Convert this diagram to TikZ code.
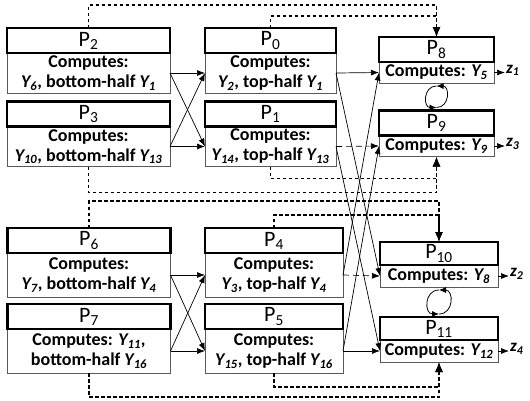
\documentclass[tikz,border=0pt]{standalone}
\usepackage{fontspec}
\setmainfont{Carlito}
\usetikzlibrary{arrows.meta,positioning,calc}
\newcommand{\yv}[1]{{\itshape Y\textsubscript{#1}}}
\newcommand{\zv}[1]{{\bfseries\itshape z\textsubscript{#1}}}
\newcommand{\pv}[1]{P\textsubscript{#1}}

\begin{document}
\begin{tikzpicture}[x=1pt, y=-1pt,
  titlebox/.style={rectangle, draw=black, line width=2.8pt, fill=white, inner sep=0pt, outer sep=0pt,
                   minimum height=25pt, font=\fontsize{22}{22}\selectfont},
  bodybox/.style={rectangle, draw=black!65, line width=0.9pt, fill=white, inner sep=0pt, outer sep=0pt,
                  align=center, font=\fontsize{18}{20}\selectfont\bfseries},
  lbody/.style={bodybox, minimum width=163pt, minimum height=40pt},
  mbody/.style={bodybox, minimum width=131pt, minimum height=40pt},
  rbody/.style={bodybox, minimum width=115pt, minimum height=21pt},
  ltitle/.style={titlebox, minimum width=163pt},
  mtitle/.style={titlebox, minimum width=131pt},
  rtitle/.style={titlebox, minimum width=115pt},
  zlab/.style={inner sep=1pt, font=\fontsize{17}{17}\selectfont},
  arr/.style={draw, line width=0.7pt, -{Latex[length=8pt,width=6pt]}},
  dasharr/.style={arr, dash pattern=on 6pt off 4pt},
  ctrl/.style={draw, line width=1.7pt, dash pattern=on 3.5pt off 2.5pt, -{Latex[length=10pt,width=8pt]}},
  loopy/.style={draw, line width=0.8pt, -{Latex[length=7pt,width=6pt]}}
]
\useasboundingbox (0,0) rectangle (530,400);

%% upper group, bodies first then titles on top
\node[lbody] (p2b) at (88.5,73) {Computes:\\\yv{6}, bottom-half \yv{1}};
\node[ltitle, above=0pt of p2b] (p2) {\pv{2}};
\node[lbody] (p3b) at (88.5,146.5) {Computes:\\\yv{10}, bottom-half \yv{13}};
\node[ltitle, above=0pt of p3b] (p3) {\pv{3}};
\node[mbody] (p0b) at (270.5,73) {Computes:\\\yv{2}, top-half \yv{1}};
\node[mtitle, above=0pt of p0b] (p0) {\pv{0}};
\node[mbody] (p1b) at (270.5,146.5) {Computes:\\\yv{14}, top-half \yv{13}};
\node[mtitle, above=0pt of p1b] (p1) {\pv{1}};
\node[rbody] (p8b) at (436.5,72.5) {Computes: \yv{5}};
\node[rtitle, above=0pt of p8b] (p8) {\pv{8}};
\node[rbody] (p9b) at (436.5,146) {Computes: \yv{9}};
\node[rtitle, above=0pt of p9b] (p9) {\pv{9}};

%% lower group
\node[lbody, minimum height=44pt] (p6b) at (89,275) {Computes:\\\yv{7}, bottom-half \yv{4}};
\node[ltitle, above=0pt of p6b] (p6) {\pv{6}};
\node[lbody, minimum height=44pt] (p7b) at (89,351) {Computes: \yv{11},\\bottom-half \yv{16}};
\node[ltitle, above=0pt of p7b] (p7) {\pv{7}};
\node[mbody, minimum width=138pt, minimum height=44pt] (p4b) at (274,275) {Computes:\\\yv{3}, top-half \yv{4}};
\node[mtitle, minimum width=138pt, above=0pt of p4b] (p4) {\pv{4}};
\node[mbody, minimum width=138pt, minimum height=44pt] (p5b) at (274,351) {Computes:\\\yv{15}, top-half \yv{16}};
\node[mtitle, minimum width=138pt, above=0pt of p5b] (p5) {\pv{5}};
\node[rbody, minimum width=118pt, minimum height=22pt] (p10b) at (439,276) {Computes: \yv{8}};
\node[rtitle, minimum width=118pt, minimum height=23pt, above=0pt of p10b] (p10) {\pv{10}};
\node[rbody, minimum width=118pt, minimum height=22pt] (p11b) at (439,351) {Computes: \yv{12}};
\node[rtitle, minimum width=118pt, minimum height=23pt, above=0pt of p11b] (p11) {\pv{11}};

%% outputs
\node[zlab, right=11pt of p8b, yshift=2pt] (z1) {\zv{1}};
\node[zlab, right=11pt of p9b, yshift=2pt] (z3) {\zv{3}};
\node[zlab, right=11pt of p10b, yshift=2pt] (z2) {\zv{2}};
\node[zlab, right=11pt of p11b, yshift=2pt] (z4) {\zv{4}};
\draw[arr] (p8b.east) -- (p8b.east -| z1.west);
\draw[arr] (p9b.east) -- (p9b.east -| z3.west);
\draw[arr] (p10b.east) -- (p10b.east -| z2.west);
\draw[arr] (p11b.east) -- (p11b.east -| z4.west);

%% left -> middle
\draw[arr] (p2b.east) -- (p0b.west);
\draw[arr] (p2b.east) -- (p1b.west);
\draw[arr] (p3b.east) -- (p1b.west);
\draw[arr] (p3b.east) -- (p0b.west);
\draw[arr] (p6b.east) -- (p4b.west);
\draw[arr] (p6b.east) -- (p5b.west);
\draw[arr] (p7b.east) -- (p5b.west);
\draw[arr] (p7b.east) -- (p4b.west);

%% middle -> right
\draw[arr] (p0b.east) -- (p8b.west);
\draw[arr] (p0b.east) -- (p10b.west);
\draw[dasharr] (p1b.east) -- (p9b.west);
\draw[arr] (p1b.east) -- (p11b.west);
\draw[arr] (p4b.east) -- (p8b.west);
\draw[dasharr] (p4b.east) -- (p10b.west);
\draw[arr] (p5b.east) -- (p9b.west);
\draw[arr] (p5b.east) -- (p11b.west);

%% dashed feeds
\draw[ctrl] (p2.north) -- ++(0,-23) -| (p8.north);
\draw[ctrl] (p0.north) -- ++(0,-12) -| (p8.north);
\draw[ctrl] (p3b.south) -- ++(0,26) -| (p9b.south);
\draw[ctrl] (p1b.south) -- ++(0,12) -| (p9b.south);
\draw[ctrl] (p6.north) -- ++(0,-27) -| (p10.north);
\draw[ctrl] (p4.north) -- ++(0,-13) -| (p10.north);
\draw[ctrl] (p7b.south) -- ++(0,24) -| (p11b.south);
\draw[ctrl] (p5b.south) -- ++(0,14) -| (p11b.south);

%% exchange loops
\coordinate (lt89) at ($(p8b.south)+(0,3)$);
\coordinate (lb89) at ($(p9.north)+(0,-3)$);
\draw[loopy] (lb89) to[out=0, in=0, looseness=1.6] (lt89);
\draw[loopy] (lt89) to[out=180, in=180, looseness=1.6] (lb89);
\coordinate (lt1011) at ($(p10b.south)+(0,3)$);
\coordinate (lb1011) at ($(p11.north)+(0,-3)$);
\draw[loopy] (lb1011) to[out=0, in=0, looseness=1.6] (lt1011);
\draw[loopy] (lt1011) to[out=180, in=180, looseness=1.6] (lb1011);
\end{tikzpicture}
\end{document}
